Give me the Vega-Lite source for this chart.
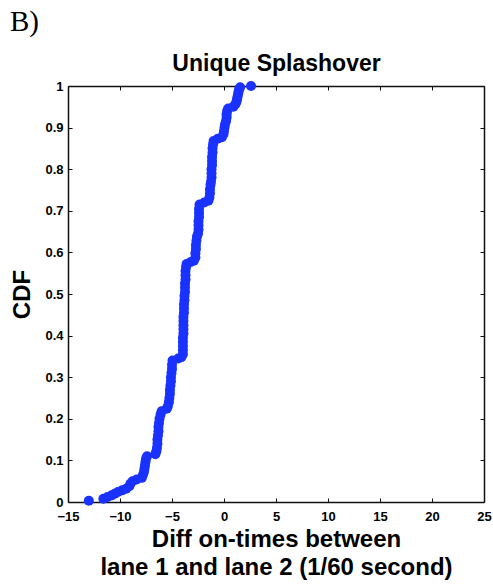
{
  "$schema": "https://vega.github.io/schema/vega-lite/v6.json",
  "autosize": "none",
  "width": 416,
  "height": 416,
  "padding": {"left": 68, "top": 86, "right": 9, "bottom": 83},
  "background": "white",
  "title": {
    "text": "B)",
    "anchor": "start",
    "frame": "bounds",
    "font": "Liberation Serif",
    "fontSize": 29,
    "fontWeight": "normal",
    "color": "black",
    "offset": 16,
    "dx": -1
  },
  "config": {
    "view": {"stroke": null},
    "axis": {
      "domainColor": "#111",
      "domainWidth": 1.5,
      "tickColor": "#111",
      "tickWidth": 1,
      "tickSize": -4,
      "grid": false,
      "labelFont": "Liberation Sans",
      "labelFontWeight": "bold",
      "labelFontSize": 13,
      "labelColor": "#000",
      "labelOverlap": false,
      "labelFlush": false,
      "titleFont": "Liberation Sans",
      "titleFontWeight": "bold",
      "titleFontSize": 24,
      "titleColor": "#000"
    }
  },
  "data": {
    "values": [
      {"diff": -13.0, "cdf": 0.003}, {"diff": -11.6, "cdf": 0.008}, {"diff": -11.2, "cdf": 0.012},
      {"diff": -10.8, "cdf": 0.016}, {"diff": -10.5, "cdf": 0.020}, {"diff": -10.2, "cdf": 0.024},
      {"diff": -9.8, "cdf": 0.028}, {"diff": -9.4, "cdf": 0.032}, {"diff": -9.1, "cdf": 0.038},
      {"diff": -9.0, "cdf": 0.044}, {"diff": -8.8, "cdf": 0.050}, {"diff": -8.4, "cdf": 0.054},
      {"diff": -7.9, "cdf": 0.058}, {"diff": -7.8, "cdf": 0.065}, {"diff": -7.7, "cdf": 0.072},
      {"diff": -7.65, "cdf": 0.080}, {"diff": -7.6, "cdf": 0.088}, {"diff": -7.55, "cdf": 0.096},
      {"diff": -7.5, "cdf": 0.104}, {"diff": -7.4, "cdf": 0.110},
      {"diff": -6.6, "cdf": 0.115}, {"diff": -6.5, "cdf": 0.122}, {"diff": -6.45, "cdf": 0.130},
      {"diff": -6.4, "cdf": 0.140}, {"diff": -6.4, "cdf": 0.150}, {"diff": -6.35, "cdf": 0.160},
      {"diff": -6.3, "cdf": 0.170}, {"diff": -6.3, "cdf": 0.180}, {"diff": -6.25, "cdf": 0.190},
      {"diff": -6.2, "cdf": 0.200}, {"diff": -6.1, "cdf": 0.210}, {"diff": -6.0, "cdf": 0.218},
      {"diff": -5.5, "cdf": 0.224}, {"diff": -5.4, "cdf": 0.230}, {"diff": -5.3, "cdf": 0.240},
      {"diff": -5.25, "cdf": 0.250}, {"diff": -5.2, "cdf": 0.260}, {"diff": -5.2, "cdf": 0.270},
      {"diff": -5.15, "cdf": 0.280}, {"diff": -5.1, "cdf": 0.290}, {"diff": -5.1, "cdf": 0.300},
      {"diff": -5.05, "cdf": 0.310}, {"diff": -5.0, "cdf": 0.320}, {"diff": -5.0, "cdf": 0.330},
      {"diff": -4.95, "cdf": 0.340},
      {"diff": -4.4, "cdf": 0.345}, {"diff": -4.1, "cdf": 0.348}, {"diff": -3.95, "cdf": 0.355},
      {"diff": -3.95, "cdf": 0.365}, {"diff": -3.95, "cdf": 0.375}, {"diff": -3.95, "cdf": 0.385},
      {"diff": -3.95, "cdf": 0.395}, {"diff": -3.9, "cdf": 0.405}, {"diff": -3.9, "cdf": 0.415},
      {"diff": -3.9, "cdf": 0.425}, {"diff": -3.9, "cdf": 0.435}, {"diff": -3.9, "cdf": 0.445},
      {"diff": -3.85, "cdf": 0.455}, {"diff": -3.85, "cdf": 0.465}, {"diff": -3.85, "cdf": 0.475},
      {"diff": -3.8, "cdf": 0.485}, {"diff": -3.8, "cdf": 0.495}, {"diff": -3.75, "cdf": 0.505},
      {"diff": -3.75, "cdf": 0.515}, {"diff": -3.75, "cdf": 0.525}, {"diff": -3.7, "cdf": 0.535},
      {"diff": -3.7, "cdf": 0.545}, {"diff": -3.7, "cdf": 0.555}, {"diff": -3.65, "cdf": 0.565},
      {"diff": -3.6, "cdf": 0.572},
      {"diff": -3.2, "cdf": 0.577}, {"diff": -2.9, "cdf": 0.580}, {"diff": -2.75, "cdf": 0.588},
      {"diff": -2.75, "cdf": 0.598}, {"diff": -2.7, "cdf": 0.608}, {"diff": -2.7, "cdf": 0.618},
      {"diff": -2.65, "cdf": 0.628}, {"diff": -2.6, "cdf": 0.638}, {"diff": -2.5, "cdf": 0.645},
      {"diff": -2.45, "cdf": 0.655}, {"diff": -2.45, "cdf": 0.665}, {"diff": -2.45, "cdf": 0.675},
      {"diff": -2.4, "cdf": 0.685}, {"diff": -2.4, "cdf": 0.695}, {"diff": -2.4, "cdf": 0.705},
      {"diff": -2.35, "cdf": 0.715},
      {"diff": -1.9, "cdf": 0.720}, {"diff": -1.5, "cdf": 0.724}, {"diff": -1.4, "cdf": 0.732},
      {"diff": -1.35, "cdf": 0.742}, {"diff": -1.35, "cdf": 0.752}, {"diff": -1.3, "cdf": 0.762},
      {"diff": -1.25, "cdf": 0.770}, {"diff": -1.2, "cdf": 0.780}, {"diff": -1.2, "cdf": 0.790},
      {"diff": -1.2, "cdf": 0.800}, {"diff": -1.15, "cdf": 0.810}, {"diff": -1.15, "cdf": 0.820},
      {"diff": -1.15, "cdf": 0.830}, {"diff": -1.1, "cdf": 0.840}, {"diff": -1.1, "cdf": 0.850},
      {"diff": -1.05, "cdf": 0.860}, {"diff": -1.0, "cdf": 0.868},
      {"diff": -0.6, "cdf": 0.873}, {"diff": -0.2, "cdf": 0.877}, {"diff": -0.05, "cdf": 0.884},
      {"diff": 0.0, "cdf": 0.892}, {"diff": 0.05, "cdf": 0.900}, {"diff": 0.1, "cdf": 0.908},
      {"diff": 0.2, "cdf": 0.916}, {"diff": 0.25, "cdf": 0.924}, {"diff": 0.25, "cdf": 0.932},
      {"diff": 0.3, "cdf": 0.940}, {"diff": 0.4, "cdf": 0.946},
      {"diff": 0.9, "cdf": 0.950}, {"diff": 1.1, "cdf": 0.956}, {"diff": 1.2, "cdf": 0.962},
      {"diff": 1.25, "cdf": 0.968}, {"diff": 1.3, "cdf": 0.974}, {"diff": 1.35, "cdf": 0.980},
      {"diff": 1.4, "cdf": 0.986}, {"diff": 1.45, "cdf": 0.992}, {"diff": 1.55, "cdf": 0.997},
      {"diff": 2.6, "cdf": 1.0}
    ]
  },
  "layer": [
    {
      "mark": {"type": "point", "filled": true, "size": 100, "color": "#1932ff", "opacity": 1},
      "encoding": {
        "x": {
          "field": "diff",
          "type": "quantitative",
          "scale": {"domain": [-15, 25], "nice": false, "zero": false},
          "axis": {
            "orient": "bottom",
            "values": [-15, -10, -5, 0, 5, 10, 15, 20, 25],
            "labelPadding": 12,
            "title": ["Diff on-times between", "lane 1 and lane 2 (1/60 second)"],
            "titleLineHeight": 28,
            "titlePadding": 4
          }
        },
        "y": {
          "field": "cdf",
          "type": "quantitative",
          "scale": {"domain": [0, 1], "nice": false},
          "axis": {
            "orient": "left",
            "values": [0, 0.1, 0.2, 0.3, 0.4, 0.5, 0.6, 0.7, 0.8, 0.9, 1],
            "format": "~g",
            "labelPadding": 9,
            "title": "CDF",
            "titlePadding": 10
          }
        }
      }
    },
    {
      "mark": {"type": "point", "opacity": 0},
      "encoding": {
        "x": {
          "field": "diff",
          "type": "quantitative",
          "axis": {
            "orient": "top",
            "values": [-15, -10, -5, 0, 5, 10, 15, 20, 25],
            "labels": false,
            "title": "Unique Splashover",
            "titleFontSize": 23,
            "titlePadding": 10
          }
        },
        "y": {
          "field": "cdf",
          "type": "quantitative",
          "axis": {
            "orient": "right",
            "values": [0, 0.1, 0.2, 0.3, 0.4, 0.5, 0.6, 0.7, 0.8, 0.9, 1],
            "labels": false,
            "title": null
          }
        }
      }
    }
  ],
  "resolve": {"axis": {"x": "independent", "y": "independent"}}
}
